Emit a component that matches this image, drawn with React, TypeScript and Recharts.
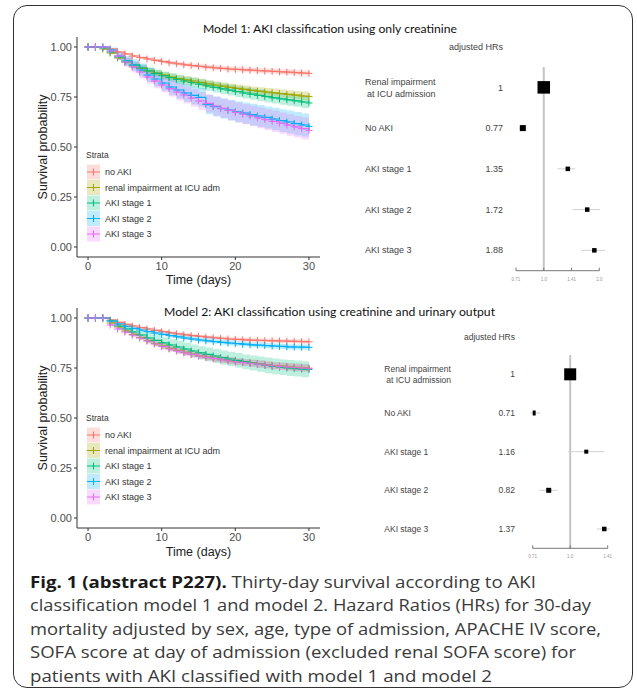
import { ComposedChart, ScatterChart, Line, Area, Scatter, XAxis, YAxis, ReferenceLine } from "recharts";

const DAYS = [0, 1, 2, 3, 4, 5, 6, 7, 8, 9, 10, 11, 12, 13, 14, 15, 16, 17, 18, 19, 20, 21, 22, 23, 24, 25, 26, 27, 28, 29, 30];
const STRATA = ["no AKI", "renal impairment at ICU adm", "AKI stage 1", "AKI stage 2", "AKI stage 3"];
const COLORS = ["#F8766D", "#A3A500", "#00BF7D", "#00B0F6", "#E76BF3"];

// model 1 survival (creatinine only)
const M1_NO_AKI = [1, 1, 1, 0.99, 0.975, 0.965, 0.955, 0.947, 0.94, 0.933, 0.927, 0.921, 0.916, 0.911, 0.907, 0.903, 0.899, 0.896, 0.893, 0.89, 0.888, 0.886, 0.884, 0.882, 0.88, 0.878, 0.876, 0.874, 0.872, 0.87, 0.868];
const M1_RENAL = [1, 1, 0.99, 0.97, 0.945, 0.925, 0.905, 0.893, 0.88, 0.87, 0.86, 0.85, 0.842, 0.836, 0.83, 0.823, 0.816, 0.81, 0.804, 0.798, 0.793, 0.788, 0.783, 0.779, 0.775, 0.771, 0.767, 0.763, 0.759, 0.755, 0.752];
const M1_AKI1 = [1, 1, 0.995, 0.975, 0.95, 0.93, 0.91, 0.895, 0.88, 0.868, 0.857, 0.847, 0.838, 0.83, 0.822, 0.814, 0.806, 0.798, 0.791, 0.784, 0.777, 0.77, 0.764, 0.758, 0.752, 0.746, 0.741, 0.736, 0.731, 0.725, 0.72];
const M1_AKI2 = [1, 1, 1, 0.985, 0.955, 0.93, 0.91, 0.885, 0.86, 0.84, 0.82, 0.8, 0.785, 0.77, 0.758, 0.748, 0.712, 0.702, 0.692, 0.684, 0.676, 0.669, 0.662, 0.655, 0.648, 0.64, 0.632, 0.625, 0.617, 0.61, 0.603];
const M1_AKI3 = [1, 1, 1, 0.98, 0.955, 0.925, 0.9, 0.875, 0.85, 0.83, 0.81, 0.792, 0.775, 0.76, 0.745, 0.73, 0.718, 0.705, 0.693, 0.683, 0.673, 0.664, 0.655, 0.646, 0.637, 0.628, 0.619, 0.61, 0.601, 0.592, 0.583];

// half widths of the 95% bands
const M1_NO_AKI_CI = [0, 0, 0, 0.003, 0.004, 0.005, 0.006, 0.007, 0.007, 0.008, 0.008, 0.009, 0.009, 0.009, 0.01, 0.01, 0.01, 0.011, 0.011, 0.011, 0.011, 0.012, 0.012, 0.012, 0.012, 0.012, 0.013, 0.013, 0.013, 0.013, 0.013];
const M1_RENAL_CI = [0, 0, 0.004, 0.007, 0.009, 0.011, 0.012, 0.013, 0.014, 0.015, 0.015, 0.016, 0.016, 0.017, 0.017, 0.018, 0.018, 0.018, 0.019, 0.019, 0.019, 0.02, 0.02, 0.02, 0.02, 0.021, 0.021, 0.021, 0.021, 0.022, 0.022];
const M1_AKI1_CI = [0, 0, 0.005, 0.009, 0.012, 0.014, 0.016, 0.017, 0.019, 0.02, 0.021, 0.022, 0.023, 0.023, 0.024, 0.025, 0.025, 0.026, 0.026, 0.027, 0.027, 0.028, 0.028, 0.029, 0.029, 0.029, 0.03, 0.03, 0.03, 0.031, 0.031];
const M1_AKI2_CI = [0, 0, 0, 0.012, 0.02, 0.025, 0.029, 0.032, 0.035, 0.037, 0.039, 0.041, 0.043, 0.044, 0.045, 0.047, 0.048, 0.049, 0.05, 0.051, 0.052, 0.053, 0.054, 0.055, 0.055, 0.056, 0.057, 0.057, 0.058, 0.058, 0.059];
const M1_AKI3_CI = [0, 0, 0, 0.012, 0.019, 0.024, 0.028, 0.031, 0.034, 0.036, 0.038, 0.04, 0.041, 0.043, 0.044, 0.045, 0.046, 0.047, 0.048, 0.049, 0.05, 0.05, 0.051, 0.052, 0.052, 0.053, 0.053, 0.054, 0.054, 0.055, 0.055];

// model 2 survival (creatinine + urinary output)
const M2_NO_AKI = [1, 1, 1, 0.99, 0.978, 0.968, 0.96, 0.952, 0.945, 0.938, 0.932, 0.926, 0.921, 0.916, 0.912, 0.908, 0.904, 0.901, 0.898, 0.895, 0.893, 0.891, 0.889, 0.888, 0.887, 0.886, 0.885, 0.884, 0.883, 0.882, 0.881];
const M2_RENAL = [1, 1, 1, 0.975, 0.955, 0.935, 0.918, 0.902, 0.887, 0.872, 0.86, 0.848, 0.838, 0.828, 0.819, 0.811, 0.804, 0.798, 0.792, 0.787, 0.782, 0.778, 0.774, 0.77, 0.766, 0.762, 0.759, 0.756, 0.753, 0.751, 0.749];
const M2_AKI1 = [1, 1, 1, 0.985, 0.96, 0.945, 0.93, 0.915, 0.9, 0.888, 0.876, 0.865, 0.855, 0.845, 0.835, 0.826, 0.818, 0.81, 0.802, 0.795, 0.788, 0.781, 0.775, 0.769, 0.763, 0.758, 0.754, 0.75, 0.747, 0.744, 0.742];
const M2_AKI2 = [1, 1, 1, 0.985, 0.97, 0.958, 0.948, 0.94, 0.932, 0.925, 0.918, 0.912, 0.906, 0.9, 0.895, 0.89, 0.886, 0.882, 0.878, 0.875, 0.872, 0.869, 0.866, 0.864, 0.862, 0.86, 0.858, 0.856, 0.855, 0.854, 0.853];
const M2_AKI3 = [1, 1, 1, 0.965, 0.945, 0.93, 0.915, 0.9, 0.885, 0.87, 0.857, 0.845, 0.835, 0.826, 0.818, 0.81, 0.803, 0.797, 0.791, 0.786, 0.781, 0.777, 0.773, 0.769, 0.765, 0.761, 0.758, 0.755, 0.752, 0.75, 0.748];

const M2_NO_AKI_CI = [0, 0, 0, 0.003, 0.004, 0.005, 0.005, 0.006, 0.006, 0.007, 0.007, 0.007, 0.008, 0.008, 0.008, 0.008, 0.009, 0.009, 0.009, 0.009, 0.009, 0.01, 0.01, 0.01, 0.01, 0.01, 0.01, 0.01, 0.011, 0.011, 0.011];
const M2_RENAL_CI = [0, 0, 0, 0.006, 0.008, 0.009, 0.01, 0.011, 0.012, 0.012, 0.013, 0.013, 0.014, 0.014, 0.014, 0.015, 0.015, 0.015, 0.016, 0.016, 0.016, 0.016, 0.017, 0.017, 0.017, 0.017, 0.017, 0.018, 0.018, 0.018, 0.018];
const M2_AKI1_CI = [0, 0, 0, 0.01, 0.015, 0.018, 0.021, 0.023, 0.025, 0.027, 0.028, 0.029, 0.031, 0.032, 0.033, 0.033, 0.034, 0.035, 0.036, 0.036, 0.037, 0.037, 0.038, 0.038, 0.039, 0.039, 0.039, 0.04, 0.04, 0.04, 0.041];
const M2_AKI2_CI = [0, 0, 0, 0.004, 0.005, 0.006, 0.007, 0.008, 0.008, 0.009, 0.009, 0.01, 0.01, 0.01, 0.011, 0.011, 0.011, 0.011, 0.012, 0.012, 0.012, 0.012, 0.012, 0.013, 0.013, 0.013, 0.013, 0.013, 0.013, 0.013, 0.014];
const M2_AKI3_CI = [0, 0, 0, 0.006, 0.008, 0.009, 0.01, 0.011, 0.012, 0.013, 0.013, 0.014, 0.014, 0.015, 0.015, 0.015, 0.016, 0.016, 0.016, 0.017, 0.017, 0.017, 0.017, 0.018, 0.018, 0.018, 0.018, 0.018, 0.019, 0.019, 0.019];

// forest plots
const HR_LABELS = ["Renal impairment\nat ICU admission", "No AKI", "AKI stage 1", "AKI stage 2", "AKI stage 3"];
const M1_HR = [1, 0.77, 1.35, 1.72, 1.88];
const M1_LO = [1, 0.74, 1.185, 1.43, 1.6];
const M1_HI = [1, 0.8, 1.48, 2.02, 2.15];
const M2_HR = [1, 0.71, 1.16, 0.82, 1.37];
const M2_LO = [1, 0.69, 0.98, 0.75, 1.28];
const M2_HI = [1, 0.76, 1.37, 0.89, 1.44];
const M1_TICKS = [0.7071, 1, 1.4142, 2];
const M1_TICK_LABELS = ["0.71", "1.0", "1.41", "2.0"];
const M2_TICKS = [0.7071, 1, 1.4142];
const M2_TICK_LABELS = ["0.71", "1.0", "1.41"];

const CAPTION_LEAD = "Fig. 1 (abstract P227).";
const CAPTION = [
  " Thirty-day survival according to AKI",
  "classification model 1 and model 2. Hazard Ratios (HRs) for 30-day",
  "mortality adjusted by sex, age, type of admission, APACHE IV score,",
  "SOFA score at day of admission (excluded renal SOFA score) for",
  "patients with AKI classified with model 1 and model 2",
];
const CAPTION_W = [506, 561, 571, 546, 462];

const SANS = "'Liberation Sans', Arial, sans-serif";

const plus = (color: string) => (p: any) => {
  const { cx, cy, index } = p;
  if (cx == null || cy == null) return <g key={index} />;
  return <path key={index} d={`M${cx - 3.5},${cy}h7M${cx},${cy - 3.5}v7`} stroke={color} strokeWidth={1} fill="none" />;
};

function KmPlot({ surv, ci }: { surv: number[][]; ci: number[][] }) {
  const rows = DAYS.map((t, i) => {
    const r: any = { t };
    surv.forEach((s, k) => {
      r["s" + k] = s[i];
      r["b" + k] = [s[i] - ci[k][i], s[i] + ci[k][i]];
    });
    return r;
  });
  return (
    <ComposedChart width={330} height={300} data={rows} margin={{ top: 37, right: 10, bottom: 0, left: 37 }}>
      <XAxis dataKey="t" type="number" domain={[-1.5, 31.5]} ticks={[0, 10, 20, 30]} allowDataOverflow
        height={43} tickSize={3} tickMargin={2} stroke="#333" tick={{ fill: "#4d4d4d", fontSize: 11, fontFamily: SANS }} />
      <YAxis type="number" domain={[-0.05, 1.05]} ticks={[0, 0.25, 0.5, 0.75, 1]} allowDataOverflow
        tickFormatter={(v: number) => v.toFixed(2)} width={40} tickSize={3} tickMargin={2} stroke="#333"
        tick={{ fill: "#4d4d4d", fontSize: 11, fontFamily: SANS }} />
      {surv.map((_, k) => (
        <Area key={"b" + k} dataKey={"b" + k} type="stepAfter" fill={COLORS[k]} fillOpacity={0.25} stroke="none" isAnimationActive={false} />
      ))}
      {surv.map((_, k) => (
        <Line key={"s" + k} dataKey={"s" + k} type="stepAfter" stroke={COLORS[k]} strokeWidth={1.2} dot={plus(COLORS[k])} activeDot={false} isAnimationActive={false} />
      ))}
    </ComposedChart>
  );
}

function Forest(props: {
  hr: number[]; lo: number[]; hi: number[]; ticks: number[]; tickLabels: string[]; boxes: number[];
  yW: number; top: number; right: number; bottom: number; labelX: number; valueX: number; fs: number; split: number[];
}) {
  const { hr, lo, hi, ticks, tickLabels, boxes, yW, top, right, bottom, labelX, valueX, fs, split } = props;
  const rows = hr.map((h, i) => ({ row: i, hr: h, lo: lo[i], hi: hi[i] }));
  const RowTick = (p: any) => {
    const i = p.payload.value;
    const lines = HR_LABELS[i].split("\n");
    return (
      <g fontFamily={SANS} fontSize={fs} fill="#444">
        {lines.map((ln, j) => (
          <text key={j} x={labelX + (j > 0 ? 2 : 0)} y={p.y + (lines.length > 1 ? split[j] : 0)} dy="0.35em">{ln}</text>
        ))}
        <text x={valueX} y={p.y} dy="0.35em" textAnchor="end">{String(hr[i])}</text>
      </g>
    );
  };
  const Box = (p: any) => {
    const s = boxes[p.payload.row];
    return <rect x={p.cx - s / 2} y={p.cy - s / 2} width={s} height={s} fill="#000" />;
  };
  return (
    <ScatterChart width={280} height={300} margin={{ top, right, bottom, left: 0 }}>
      <XAxis dataKey="hr" type="number" scale="log" domain={[ticks[0], ticks[ticks.length - 1]]} allowDataOverflow
        ticks={ticks} tickFormatter={(v: number) => tickLabels[ticks.indexOf(v)]} height={20}
        tickSize={-3} tickMargin={10} stroke="#777" tick={{ fill: "#999", fontSize: 4.5, fontFamily: SANS }} />
      <YAxis dataKey="row" type="number" domain={[-0.5, 4.5]} reversed ticks={[0, 1, 2, 3, 4]} width={yW}
        axisLine={false} tickLine={false} tick={RowTick} />
      <ReferenceLine x={1} stroke="#c4c4c4" strokeWidth={2} />
      {rows.filter((r) => r.hi > r.lo).map((r) => (
        <ReferenceLine key={r.row} segment={[{ x: r.lo, y: r.row }, { x: r.hi, y: r.row }]} stroke="#d2d2d2" strokeWidth={1} ifOverflow="visible" />
      ))}
      <Scatter data={rows} shape={Box} isAnimationActive={false} />
    </ScatterChart>
  );
}

function Legend({ top }: { top: number }) {
  return (
    <g fontFamily={SANS}>
      <text x={86} y={top} dy="0.35em" fontSize={8.5} fill="#333">Strata</text>
      {STRATA.map((s, k) => {
        const cy = top + 17 + k * 15.5;
        return (
          <g key={s}>
            <rect x={87} y={cy - 7.5} width={13} height={15} fill={COLORS[k]} fillOpacity={0.25} />
            <path d={`M87,${cy}h13M93.5,${cy - 3.5}v7`} stroke={COLORS[k]} strokeWidth={1.1} />
            <text x={105} y={cy} dy="0.35em" fontSize={9} fill="#333">{s}</text>
          </g>
        );
      })}
    </g>
  );
}

export default function App() {
  return (
    <div style={{ position: "absolute", left: 0, top: 0, width: 637, height: 692, background: "#fff", overflow: "hidden" }}>
      <div style={{ position: "absolute", left: 13, top: 5, width: 620, height: 683, boxSizing: "border-box", border: "1.5px solid #333", borderRadius: 14 }} />
      <div style={{ position: "absolute", left: 0, top: 0 }}>
        <KmPlot surv={[M1_NO_AKI, M1_RENAL, M1_AKI1, M1_AKI2, M1_AKI3]} ci={[M1_NO_AKI_CI, M1_RENAL_CI, M1_AKI1_CI, M1_AKI2_CI, M1_AKI3_CI]} />
      </div>
      <div style={{ position: "absolute", left: 0, top: 271 }}>
        <KmPlot surv={[M2_NO_AKI, M2_RENAL, M2_AKI1, M2_AKI2, M2_AKI3]} ci={[M2_NO_AKI_CI, M2_RENAL_CI, M2_AKI1_CI, M2_AKI2_CI, M2_AKI3_CI]} />
      </div>
      <div style={{ position: "absolute", left: 340, top: 0 }}>
        <Forest hr={M1_HR} lo={M1_LO} hi={M1_HI} ticks={M1_TICKS} tickLabels={M1_TICK_LABELS} boxes={[12.5, 6, 4.5, 4.5, 4.5]}
          yW={176} top={67} right={20.7} bottom={9.3} labelX={25} valueX={163} fs={9} split={[-6, 6.7]} />
      </div>
      <div style={{ position: "absolute", left: 340, top: 290 }}>
        <Forest hr={M2_HR} lo={M2_LO} hi={M2_HI} ticks={M2_TICKS} tickLabels={M2_TICK_LABELS} boxes={[12, 5, 4, 5, 4.5]}
          yW={192.7} top={65} right={12.3} bottom={21.7} labelX={44.3} valueX={175} fs={8.5} split={[-5.7, 6]} />
      </div>
      <svg width={637} height={692} style={{ position: "absolute", left: 0, top: 0, pointerEvents: "none" }}>
        <text x={203} y={33} fontFamily="Lato, 'Open Sans', sans-serif" fontSize={11} fill="#111" textLength={254} lengthAdjust="spacingAndGlyphs">
          Model 1: AKI classification using only creatinine
        </text>
        <text x={164} y={316} fontFamily="Lato, 'Open Sans', sans-serif" fontSize={11} fill="#111" textLength={331} lengthAdjust="spacingAndGlyphs">
          Model 2: AKI classification using creatinine and urinary output
        </text>
        <g fontFamily={SANS} fontSize={12.5} fill="#222" textAnchor="middle">
          <text x={198.5} y={280} dy="0.35em">Time (days)</text>
          <text x={198.5} y={551.5} dy="0.35em">Time (days)</text>
          <text transform="translate(43,147) rotate(-90)" dy="0.35em">Survival probability</text>
          <text transform="translate(43,418) rotate(-90)" dy="0.35em">Survival probability</text>
        </g>
        <Legend top={155} />
        <Legend top={418} />
        <g fontFamily={SANS} fontSize={9} fill="#444" textAnchor="end">
          <text x={503} y={47} dy="0.35em">adjusted HRs</text>
          <text x={515} y={336.7} dy="0.35em" fontSize={8.5}>adjusted HRs</text>
        </g>
        <g fontFamily="'Open Sans', sans-serif" fontSize={16.5} fill="#3a3a3a">
          {CAPTION.map((ln, i) => (
            <text key={i} x={30} y={587.5 + i * 23.5} textLength={CAPTION_W[i]} lengthAdjust="spacingAndGlyphs" xmlSpace="preserve">
              {i === 0 && <tspan fontWeight="bold" fill="#1a1a1a">{CAPTION_LEAD}</tspan>}
              {ln}
            </text>
          ))}
        </g>
      </svg>
    </div>
  );
}
